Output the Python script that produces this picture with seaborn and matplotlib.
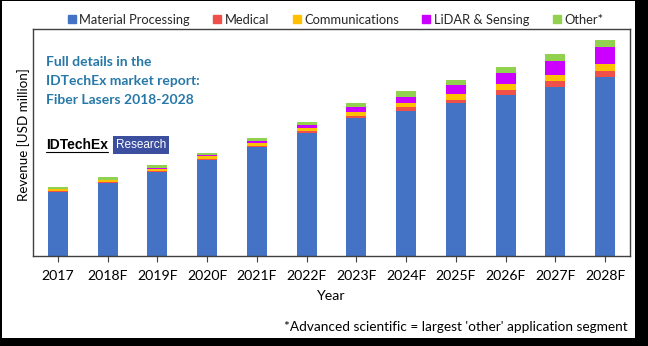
import matplotlib
matplotlib.use("Agg")
import matplotlib.pyplot as plt
from matplotlib.lines import Line2D
from matplotlib.patches import Rectangle
import seaborn as sns
import pandas as pd
import numpy as np

years = ["2017", "2018F", "2019F", "2020F", "2021F", "2022F",
         "2023F", "2024F", "2025F", "2026F", "2027F", "2028F"]
material_processing = [64, 73, 84, 96, 109, 123, 137.7, 145.3, 153.3, 161.3, 169.3, 178.7]
medical = [0.7, 1.0, 1.5, 1.5, 1.5, 2.0, 2.3, 3.4, 2.7, 4.4, 6.0, 6.3]
communications = [2.0, 2.0, 2.0, 2.5, 3.0, 3.5, 4.0, 4.0, 6.0, 6.0, 5.7, 7.3]
lidar_sensing = [0.3, 0.5, 0.7, 1.0, 1.5, 2.5, 5.0, 6.3, 8.7, 11.6, 14.3, 17.0]
other = [2.0, 2.5, 2.5, 2.5, 3.0, 3.0, 4.3, 6.0, 5.3, 5.4, 6.4, 6.7]

series_names = ["Material Processing", "Medical", "Communications", "LiDAR & Sensing", "Other*"]
series_colors = ["#4472C4", "#F0504A", "#FFC000", "#CC00FF", "#92D050"]

sns.set_theme(style="white")
plt.rcParams["font.family"] = ["Lato", "DejaVu Sans"]

fig = plt.figure(figsize=(6.48, 3.46), dpi=100, facecolor="black")
W, H = 648, 346
bg = Rectangle((2 / W, (H - 338) / H), (635 - 2) / W, (338 - 1) / H,
               transform=fig.transFigure, facecolor="white", edgecolor="none")
bg.set_zorder(-10)
fig.patches.append(bg)

ax = fig.add_axes([33 / W, (H - 256) / H, 597 / W, 227 / H])
ax.set_facecolor("white")

df = pd.DataFrame({"Year": years,
                   "Material Processing": material_processing,
                   "Medical": medical,
                   "Communications": communications,
                   "LiDAR & Sensing": lidar_sensing,
                   "Other*": other})
cum = df[series_names].cumsum(axis=1)
for name, col in reversed(list(zip(series_names, series_colors))):
    sns.barplot(x=df["Year"], y=cum[name], order=years, color=col, saturation=1,
                width=0.4, errorbar=None, linewidth=0, ax=ax)

ax.set_xlim(-0.5, 11.5)
ax.set_ylim(0, 227)
ax.set_yticks([])
for s in ax.spines.values():
    s.set_visible(True)
    s.set_color("#404040")
    s.set_linewidth(1.0)
ax.tick_params(axis="x", bottom=True, length=4, width=0.8, color="#404040",
               labelsize=10.2, labelcolor="black", pad=6)
ax.set_xlabel("Year", fontsize=10.2, color="black", labelpad=6)
ax.set_ylabel("")
fig.text(24 / W, 1 - 135 / H, "Revenue [USD million]", rotation=90, ha="center",
         va="center", fontsize=9.6, color="black")

handles = [Line2D([], [], marker="s", linestyle="none", markersize=5.5,
                  markerfacecolor=c, markeredgecolor=c) for c in series_colors]
fig.legend(handles, series_names, loc="center", bbox_to_anchor=(335 / W, 1 - 20 / H),
           ncol=5, frameon=False, fontsize=9.3, handletextpad=0.2,
           columnspacing=1.7, handlelength=0.8)

fig.text(46 / W, 1 - 81 / H, "Full details in the\nIDTechEx market report:\nFiber Lasers 2018-2028",
         ha="left", va="center", fontsize=10, fontweight="bold", color="#2678A8",
         linespacing=1.65)

fig.text(46 / W, 1 - 145 / H, "IDTechEx", ha="left", va="center", fontsize=10,
         fontweight="bold", color="black", family="Liberation Sans")
fig.lines.append(Line2D([46 / W, 108 / W], [1 - 152 / H, 1 - 152 / H],
                        transform=fig.transFigure, color="black", linewidth=0.8))
fig.patches.append(Rectangle((113 / W, 1 - 153.5 / H), 56 / W, 18 / H,
                             transform=fig.transFigure, facecolor="#3B4F9E",
                             edgecolor="none"))
fig.text(141 / W, 1 - 145 / H, "Research", ha="center", va="center", fontsize=8.5,
         color="white", family="Liberation Sans")

fig.text(628 / W, 1 - 327 / H, "*Advanced scientific = largest 'other' application segment",
         ha="right", va="center", fontsize=9.8, color="black")

fig.savefig("out.png", dpi=100, facecolor=fig.get_facecolor())
